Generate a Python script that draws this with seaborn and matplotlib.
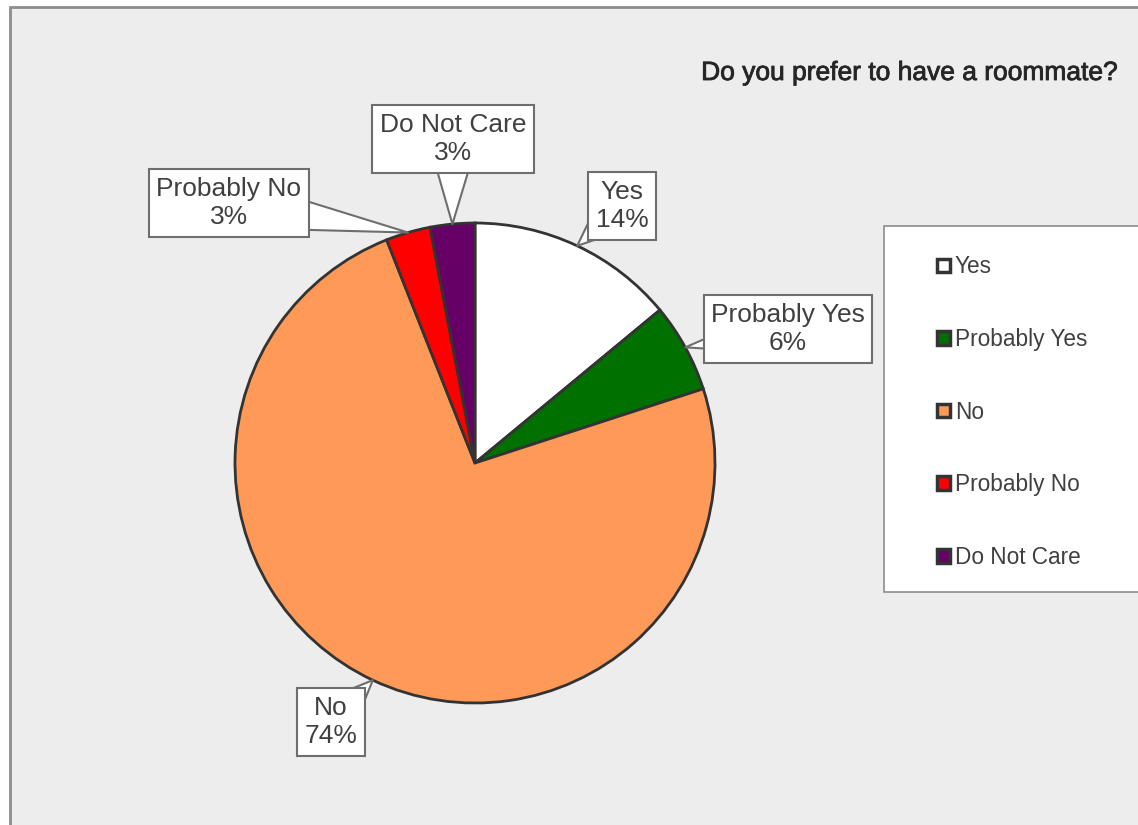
import numpy as np
import matplotlib
matplotlib.use("Agg")
import matplotlib.pyplot as plt
import matplotlib.patheffects as pe
from matplotlib.patches import Rectangle
import seaborn as sns

# data
categories = ["Yes", "Probably Yes", "No", "Probably No", "Do Not Care"]
shares = [14, 6, 74, 3, 3]
slice_colors = ["#FFFFFF", "#007000", "#FF9957", "#FF0000", "#660066"]

sns.set_theme(style="white")
plt.rcParams['font.family'] = ['Liberation Sans', 'DejaVu Sans']

W, H = 1138, 825
fig = plt.figure(figsize=(W / 100, H / 100), dpi=100, facecolor="white")
ax = fig.add_axes([0, 0, 1, 1])

# chart area
ax.add_patch(Rectangle((10, -20), W + 20, H - 7 + 20, facecolor="#EDEDED",
                       edgecolor="#8C8C8C", linewidth=2, zorder=0))

cx, cy, r = 475, H - 463, 240
palette = sns.color_palette(slice_colors)
wedges, _ = ax.pie(shares, colors=palette, startangle=90, counterclock=False,
                   center=(cx, cy), radius=r, frame=True,
                   wedgeprops=dict(edgecolor="#333333", linewidth=2))
ax.set_xlim(0, W)
ax.set_ylim(0, H)
ax.set_aspect("equal")
ax.axis("off")

# callout label positions (box centres, pixels from top-left)
label_pos = [(622, 206), (788, 329), (331, 722), (229, 203), (453, 139)]
for w, cat, val, (lx, ly) in zip(wedges, categories, shares, label_pos):
    th = np.deg2rad((w.theta1 + w.theta2) / 2)
    px, py = cx + r * np.cos(th), cy + r * np.sin(th)
    # pointer: wide under the box, tip on the slice edge
    ax.annotate("", xy=(px, py), xytext=(lx, H - ly),
                arrowprops=dict(arrowstyle="wedge,tail_width=1.8,shrink_factor=0.5",
                                mutation_scale=20, facecolor="white",
                                edgecolor="#6E6E6E", linewidth=1.5,
                                shrinkA=0, shrinkB=0),
                zorder=4)
    ax.text(lx, H - ly, f"{cat}\n{val}%", ha="center", va="center",
            fontsize=19, color="#404040", linespacing=1.25,
            bbox=dict(boxstyle="square,pad=0.28", facecolor="white",
                      edgecolor="#6E6E6E", linewidth=1.5),
            zorder=5)

# title
fig.text(1118 / W, 1 - 73 / H, "Do you prefer to have a roommate?", ha="right",
         va="center", fontsize=19, color="#262626",
         path_effects=[pe.withStroke(linewidth=0.6, foreground="#262626")])

# legend panel
ax.add_patch(Rectangle((884, H - 592), 300, 366, facecolor="white",
                       edgecolor="#8C8C8C", linewidth=1.2, zorder=3))
leg = ax.legend(wedges, categories, loc="upper left",
                bbox_to_anchor=(917 / W, 1 - 235 / H), frameon=False,
                fontsize=16.3, labelspacing=2.19, handlelength=0.55,
                handleheight=0.55, handletextpad=0.22, labelcolor="#404040")
for h in leg.legend_handles:
    h.set_linewidth(2.5)
    h.set_edgecolor("#333333")
leg.set_zorder(6)

fig.savefig("out.png", dpi=100, facecolor="white")
